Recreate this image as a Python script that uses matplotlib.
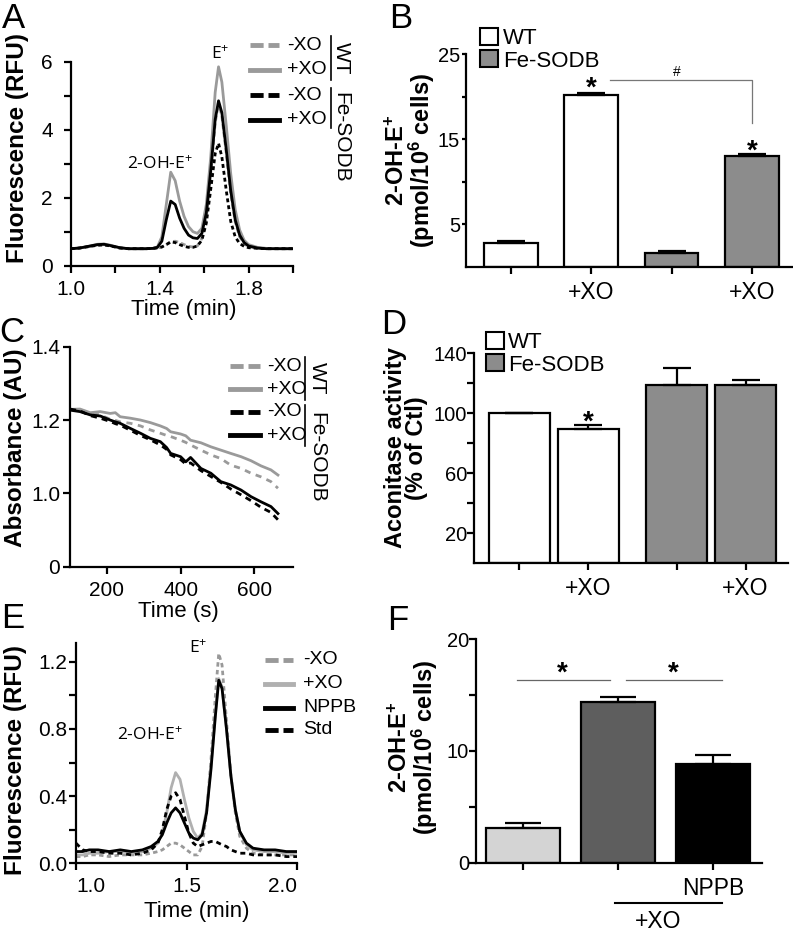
import matplotlib
matplotlib.use('Agg')
import matplotlib.pyplot as plt
from matplotlib.lines import Line2D
from matplotlib.patches import Patch

plt.rcParams['font.family'] = ['Liberation Sans', 'DejaVu Sans']
plt.rcParams['mathtext.fontset'] = 'custom'
plt.rcParams['mathtext.rm'] = 'Liberation Sans'
plt.rcParams['mathtext.it'] = 'Liberation Sans:italic'
plt.rcParams['mathtext.bf'] = 'Liberation Sans:bold'

# ---------------- dados ----------------
# A: cromatogramas (min, RFU)
tempo_a = [1.00, 1.04, 1.08, 1.12, 1.15, 1.18, 1.22, 1.26, 1.30, 1.34, 1.37, 1.39, 1.41, 1.43,
           1.45, 1.47, 1.49, 1.51, 1.53, 1.55, 1.57, 1.59, 1.61, 1.63, 1.65, 1.665, 1.68, 1.70,
           1.72, 1.74, 1.76, 1.78, 1.80, 1.84, 1.88, 1.94, 2.00]
wt_mais_a = [0.50, 0.52, 0.57, 0.63, 0.64, 0.60, 0.53, 0.50, 0.50, 0.50, 0.51, 0.55, 0.85, 1.80,
             2.75, 2.50, 1.90, 1.45, 1.15, 1.00, 0.95, 1.10, 1.80, 3.20, 5.10, 5.85, 5.40, 4.10,
             2.70, 1.65, 1.05, 0.75, 0.62, 0.54, 0.51, 0.50, 0.50]
wt_menos_a = [0.50, 0.52, 0.56, 0.61, 0.62, 0.58, 0.52, 0.50, 0.50, 0.50, 0.51, 0.52, 0.55, 0.62,
              0.70, 0.72, 0.68, 0.62, 0.57, 0.55, 0.58, 0.80, 1.40, 2.70, 4.20, 4.80, 4.40, 3.30,
              2.10, 1.30, 0.85, 0.65, 0.56, 0.52, 0.50, 0.50, 0.50]
fe_mais_a = [0.50, 0.52, 0.57, 0.62, 0.63, 0.59, 0.53, 0.50, 0.50, 0.50, 0.51, 0.54, 0.72, 1.35,
             1.90, 1.80, 1.40, 1.10, 0.90, 0.82, 0.80, 0.95, 1.55, 2.80, 4.30, 4.85, 4.50, 3.40,
             2.20, 1.35, 0.90, 0.68, 0.58, 0.52, 0.50, 0.50, 0.50]
fe_menos_a = [0.50, 0.52, 0.56, 0.60, 0.61, 0.58, 0.52, 0.50, 0.50, 0.50, 0.51, 0.52, 0.55, 0.62,
              0.70, 0.68, 0.62, 0.57, 0.54, 0.54, 0.58, 0.75, 1.25, 2.25, 3.30, 3.60, 3.20, 2.20,
              1.30, 0.85, 0.65, 0.57, 0.53, 0.51, 0.50, 0.50, 0.50]

# B: 2-OH-E+ (pmol/10^6 celulas)
grupos_b = ['', '+XO', '', '+XO']
valores_b = [2.8, 20.2, 1.7, 13.0]
erros_b = [0.2, 0.2, 0.2, 0.3]

# C: absorbancia (s, AU)
tempo_c = [100, 127, 155, 182, 209, 223, 236, 264, 291, 318, 345, 362, 373, 400, 414, 427,
           455, 482, 509, 536, 564, 591, 618, 645, 664]
wt_mais_c = [1.229, 1.230, 1.220, 1.223, 1.218, 1.220, 1.209, 1.205, 1.200, 1.193, 1.184, 1.177,
             1.168, 1.162, 1.157, 1.145, 1.138, 1.127, 1.118, 1.109, 1.100, 1.089, 1.075, 1.064, 1.050]
wt_menos_c = [1.229, 1.226, 1.218, 1.214, 1.202, 1.199, 1.195, 1.191, 1.184, 1.173, 1.164, 1.158,
              1.155, 1.145, 1.139, 1.132, 1.118, 1.105, 1.095, 1.077, 1.068, 1.055, 1.045, 1.032, 1.014]
fe_mais_c = [1.227, 1.223, 1.214, 1.211, 1.200, 1.195, 1.191, 1.177, 1.164, 1.150, 1.141, 1.125,
             1.109, 1.100, 1.086, 1.098, 1.068, 1.055, 1.032, 1.023, 1.009, 0.991, 0.977, 0.964, 0.945]
fe_menos_c = [1.230, 1.225, 1.212, 1.205, 1.196, 1.190, 1.186, 1.172, 1.158, 1.146, 1.132, 1.120,
              1.105, 1.092, 1.080, 1.083, 1.062, 1.046, 1.030, 1.012, 0.996, 0.980, 0.962, 0.948, 0.928]

# D: atividade da aconitase (% do controle)
grupos_d = ['', '+XO', '', '+XO']
valores_d = [100.0, 89.2, 119.1, 118.7]
erros_d = [0.0, 2.9, 10.8, 3.5]

# E: cromatogramas (min, RFU)
tempo_e = [1.00, 1.03, 1.06, 1.10, 1.15, 1.20, 1.25, 1.30, 1.34, 1.37, 1.39, 1.41, 1.43, 1.45,
           1.47, 1.49, 1.51, 1.53, 1.55, 1.57, 1.59, 1.61, 1.63, 1.645, 1.66, 1.68, 1.70, 1.72,
           1.74, 1.77, 1.80, 1.85, 1.90, 1.95, 2.00]
menos_xo_e = [0.04, 0.04, 0.05, 0.05, 0.04, 0.05, 0.05, 0.05, 0.06, 0.07, 0.08, 0.10, 0.12, 0.12,
              0.11, 0.09, 0.07, 0.05, 0.05, 0.10, 0.30, 0.62, 1.00, 1.25, 1.18, 0.85, 0.52, 0.30,
              0.16, 0.09, 0.06, 0.05, 0.05, 0.05, 0.05]
mais_xo_e = [0.05, 0.05, 0.06, 0.06, 0.07, 0.07, 0.06, 0.07, 0.09, 0.12, 0.18, 0.30, 0.45, 0.54,
             0.50, 0.38, 0.27, 0.19, 0.15, 0.18, 0.32, 0.58, 0.90, 1.10, 1.05, 0.80, 0.52, 0.32,
             0.19, 0.11, 0.08, 0.07, 0.07, 0.06, 0.06]
nppb_e = [0.07, 0.07, 0.08, 0.08, 0.07, 0.08, 0.07, 0.08, 0.10, 0.13, 0.17, 0.24, 0.30, 0.33,
          0.30, 0.24, 0.18, 0.15, 0.14, 0.17, 0.30, 0.56, 0.88, 1.09, 1.04, 0.80, 0.52, 0.32,
          0.19, 0.12, 0.09, 0.08, 0.08, 0.07, 0.07]
std_e = [0.12, 0.08, 0.07, 0.07, 0.06, 0.06, 0.05, 0.06, 0.08, 0.12, 0.20, 0.32, 0.40, 0.42,
         0.38, 0.28, 0.18, 0.12, 0.10, 0.11, 0.12, 0.13, 0.13, 0.12, 0.11, 0.10, 0.08, 0.07,
         0.06, 0.06, 0.05, 0.05, 0.05, 0.04, 0.04]

# F: 2-OH-E+ com NPPB
grupos_f = ['', '', 'NPPB']
valores_f = [3.07, 14.42, 8.84]
erros_f = [0.5, 0.4, 0.8]

# ---------------- figura ----------------
W, H = 793, 933
fig = plt.figure(figsize=(W / 100, H / 100), dpi=100)

cinza = '#9a9a9a'
cinza_barra = '#8c8c8c'
fonte_pico = ['Open Sans', 'DejaVu Sans']


def fx(x):
    return x / W


def fy(y):
    return 1 - y / H


# cria eixo a partir das coordenadas em pixels
def eixo(esq, dir, topo, base):
    return fig.add_axes([esq / W, 1 - base / H, (dir - esq) / W, (base - topo) / H])


def estilo(ax, tam=15, pad_y=1, comp_y=5):
    for s in ['top', 'right']:
        ax.spines[s].set_visible(False)
    for s in ['left', 'bottom']:
        ax.spines[s].set_linewidth(1.6)
    ax.tick_params(which='both', direction='out', length=5, width=1.6, labelsize=tam)
    ax.tick_params(axis='x', which='both', pad=5)
    ax.tick_params(axis='y', which='both', pad=pad_y, length=comp_y)


# legenda de linhas desenhada a mao (como no original)
def legenda_linhas(itens, x0, x1, xt, ys, fs=14):
    for (rotulo, cor, tracos), y in zip(itens, ys):
        ln = Line2D([fx(x0), fx(x1)], [fy(y), fy(y)], color=cor, lw=3.5)
        if tracos:
            ln.set_dashes(tracos)
        fig.add_artist(ln)
        fig.text(fx(xt), fy(y), rotulo, fontsize=fs, va='center', ha='left')


def barra_vertical(x, y0, y1):
    fig.add_artist(Line2D([fx(x), fx(x)], [fy(y0), fy(y1)], color='black', lw=1.2))


def letra(txt, x, y):
    fig.text(fx(x), fy(y), txt, fontsize=25, ha='center', va='center')


def rotulo_y(txt, x, y, tam=17.5):
    fig.text(fx(x), fy(y), txt, fontsize=tam, fontweight='bold', rotation=90,
             ha='center', va='center', multialignment='center', linespacing=0.9)


# ---------- A ----------
axA = eixo(70.7, 293, 61.7, 265.7)
estilo(axA, pad_y=8)
axA.plot(tempo_a, wt_menos_a, color=cinza, lw=2, dashes=(1.8, 1.1))
axA.plot(tempo_a, wt_mais_a, color=cinza, lw=2)
axA.plot(tempo_a, fe_menos_a, color='black', lw=2, dashes=(1.4, 1.1))
axA.plot(tempo_a, fe_mais_a, color='black', lw=2)
axA.set_xlim(1.0, 2.0)
axA.set_ylim(0, 6)
axA.set_xticks([1.0, 1.4, 1.8])
axA.set_xticks([1.2, 1.6, 2.0], minor=True)
axA.set_yticks([0, 2, 4, 6])
axA.set_yticks([1, 3, 5], minor=True)
axA.text(1.40, 3.0, r'2-OH-E$^{+}$', fontsize=12.5, ha='center', va='center', family=fonte_pico)
axA.text(1.672, 6.26, r'E$^{+}$', fontsize=12.5, ha='center', va='center', clip_on=False,
         family=fonte_pico)
letra('A', 13, 19)
rotulo_y('Fluorescence (RFU)', 17.5, 148)
fig.text(fx(184), fy(310), 'Time (min)', fontsize=16, ha='center', va='center')
legenda_linhas([('-XO', cinza, (2.7, 1.0)), ('+XO', cinza, None),
                ('-XO', 'black', (2.7, 1.0)), ('+XO', 'black', None)],
               250, 279, 287, [45, 70, 95, 120])
barra_vertical(330.7, 36, 80)
barra_vertical(330.7, 88, 128)
fig.text(fx(341), fy(58), 'WT', fontsize=15, rotation=-90, ha='center', va='center')
fig.text(fx(341), fy(137), 'Fe-SODB', fontsize=15, rotation=-90, ha='center', va='center')

# ---------- B ----------
axB = eixo(465.7, 791.7, 54, 267)
estilo(axB, tam=14.5, pad_y=1, comp_y=3)
pos_b = [0, 1, 2, 3]
cores_b = ['white', 'white', cinza_barra, cinza_barra]
axB.bar(pos_b, valores_b, width=0.67, color=cores_b, edgecolor='black', linewidth=1.6,
        yerr=[[0] * 4, erros_b], capsize=10, error_kw=dict(elinewidth=1.6, capthick=1.6))
axB.set_xlim(-0.564, 3.496)
axB.set_ylim(0, 25)
axB.set_yticks([5, 15, 25])
axB.set_yticks([10, 20], minor=True)
axB.set_xticks(pos_b)
axB.set_xticklabels(grupos_b, fontsize=16.5)
axB.text(1, 20.9, '*', fontsize=20, fontweight='bold', ha='center', va='center')
axB.text(3, 13.5, '*', fontsize=20, fontweight='bold', ha='center', va='center')
axB.plot([1.23, 3.0, 3.0], [22.0, 22.0, 16.9], color='#777777', lw=0.9, clip_on=False)
axB.text(2.06, 22.9, '#', fontsize=10, ha='center', va='center')
axB.legend(handles=[Patch(facecolor='white', edgecolor='black', lw=1.5, label='WT'),
                    Patch(facecolor=cinza_barra, edgecolor='black', lw=1.5, label='Fe-SODB')],
           loc='upper left', bbox_to_anchor=(fx(480), fy(28)), bbox_transform=fig.transFigure,
           frameon=False, fontsize=16, handlelength=0.8, handleheight=0.8,
           handletextpad=0.25, labelspacing=0.05, borderpad=0, borderaxespad=0)
letra('B', 401, 19)
rotulo_y('2-OH-E$^{\\mathbf{+}}$\n(pmol/10$^{\\mathbf{6}}$ cells)', 411, 160, tam=17)

# ---------- C ----------
axC = eixo(70, 292.7, 346.7, 566.7)
estilo(axC, pad_y=2)
axC.plot(tempo_c, wt_menos_c, color=cinza, lw=2, dashes=(2.2, 2.0))
axC.plot(tempo_c, wt_mais_c, color=cinza, lw=2)
axC.plot(tempo_c, fe_menos_c, color='black', lw=2, dashes=(2.2, 1.8))
axC.plot(tempo_c, fe_mais_c, color='black', lw=2)
axC.set_xlim(100, 704)
axC.set_ylim(0.8, 1.4)
axC.set_xticks([200, 400, 600])
axC.set_yticks([0.8, 1.0, 1.2, 1.4])
axC.set_yticklabels(['0', '1.0', '1.2', '1.4'])
letra('C', 12, 333)
rotulo_y('Absorbance (AU)', 16, 448)
fig.text(fx(178), fy(612), 'Time (s)', fontsize=16, ha='center', va='center')
legenda_linhas([('-XO', cinza, (2.7, 1.0)), ('+XO', cinza, None),
                ('-XO', 'black', (2.7, 1.0)), ('+XO', 'black', None)],
               230, 260, 267, [366, 389, 412, 435])
barra_vertical(305, 357, 400)
barra_vertical(305, 405, 446)
fig.text(fx(317), fy(378), 'WT', fontsize=15, rotation=-90, ha='center', va='center')
fig.text(fx(317), fy(457), 'Fe-SODB', fontsize=15, rotation=-90, ha='center', va='center')

# ---------- D ----------
axD = eixo(474, 788.3, 353.3, 563)
estilo(axD, tam=14.5, pad_y=0)
pos_d = [0, 1, 2.28, 3.28]
cores_d = ['white', 'white', cinza_barra, cinza_barra]
axD.bar(pos_d, valores_d, width=0.88, color=cores_d, edgecolor='black', linewidth=1.6,
        yerr=[[0] * 4, erros_d], capsize=10, error_kw=dict(elinewidth=1.6, capthick=1.6))
axD.set_xlim(-0.657, 3.9)
axD.set_ylim(0, 140)
axD.set_yticks([20, 60, 100, 140])
axD.set_yticks([40, 80, 120], minor=True)
axD.set_xticks(pos_d)
axD.set_xticklabels(grupos_d, fontsize=16.5)
axD.text(1, 94, '*', fontsize=20, fontweight='bold', ha='center', va='center')
axD.legend(handles=[Patch(facecolor='white', edgecolor='black', lw=1.5, label='WT'),
                    Patch(facecolor=cinza_barra, edgecolor='black', lw=1.5, label='Fe-SODB')],
           loc='upper left', bbox_to_anchor=(fx(486), fy(332)), bbox_transform=fig.transFigure,
           frameon=False, fontsize=16, handlelength=0.8, handleheight=0.8,
           handletextpad=0.2, labelspacing=0.05, borderpad=0, borderaxespad=0)
letra('D', 394, 325)
rotulo_y('Aconitase activity\n(% of Ctl)', 406, 448, tam=17)

# ---------- E ----------
axE = eixo(76, 297.3, 643.3, 863.3)
estilo(axE, pad_y=1)
axE.plot(tempo_e, menos_xo_e, color='#999999', lw=2, dashes=(1.6, 1.2))
axE.plot(tempo_e, mais_xo_e, color='#b0b0b0', lw=2)
axE.plot(tempo_e, nppb_e, color='black', lw=2)
axE.plot(tempo_e, std_e, color='black', lw=2, dashes=(1.8, 1.4))
axE.set_xlim(1.0, 2.0)
axE.set_ylim(0, 1.31)
axE.set_xticks([1.0, 1.5, 2.0])
axE.set_yticks([0, 0.4, 0.8, 1.2])
axE.set_yticks([0.2, 0.6, 1.0], minor=True)
rot_x = axE.get_xticklabels()
rot_x[0].set_ha('left')
rot_x[-1].set_ha('right')
axE.text(1.334, 0.766, r'2-OH-E$^{+}$', fontsize=12.5, ha='center', va='center', family=fonte_pico)
axE.text(1.551, 1.285, r'E$^{+}$', fontsize=12.5, ha='center', va='center', clip_on=False,
         family=fonte_pico)
letra('E', 13, 619)
rotulo_y('Fluorescence (RFU)', 16, 760)
fig.text(fx(197), fy(912), 'Time (min)', fontsize=16, ha='center', va='center')
legenda_linhas([('-XO', '#999999', (2.7, 1.0)), ('+XO', '#b0b0b0', None),
                ('NPPB', 'black', None), ('Std', 'black', (2.7, 1.0))],
               265, 293, 303, [660, 684, 708, 730])

# ---------- F ----------
axF = eixo(476, 761.7, 639.3, 862.7)
estilo(axF, tam=14.5, pad_y=0)
pos_f = [0, 1, 2]
cores_f = ['#d4d4d4', '#5e5e5e', 'black']
axF.bar(pos_f, valores_f, width=0.78, color=cores_f, edgecolor='black', linewidth=1.6,
        yerr=[[0] * 3, erros_f], capsize=13, error_kw=dict(elinewidth=1.6, capthick=1.6))
axF.set_xlim(-0.495, 2.513)
axF.set_ylim(0, 20)
axF.set_yticks([0, 10, 20])
axF.set_yticks([5, 15], minor=True)
axF.set_xticks(pos_f)
axF.set_xticklabels(grupos_f, fontsize=16.5)
axF.plot([-0.066, 0.916], [16.36, 16.36], color='#666666', lw=0.9)
axF.plot([1.084, 2.09], [16.36, 16.36], color='#666666', lw=0.9)
axF.text(0.417, 16.9, '*', fontsize=20, fontweight='bold', ha='center', va='center')
axF.text(1.58, 16.9, '*', fontsize=20, fontweight='bold', ha='center', va='center')
axF.plot([0.97, 2.10], [-0.182, -0.182], transform=axF.get_xaxis_transform(),
         clip_on=False, color='black', lw=1.5)
axF.text(1.42, -0.262, '+XO', fontsize=16.5, ha='center', va='center',
         transform=axF.get_xaxis_transform())
letra('F', 398, 620)
rotulo_y('2-OH-E$^{\\mathbf{+}}$\n(pmol/10$^{\\mathbf{6}}$ cells)', 414, 747, tam=17)

fig.savefig('out.png', dpi=100)
